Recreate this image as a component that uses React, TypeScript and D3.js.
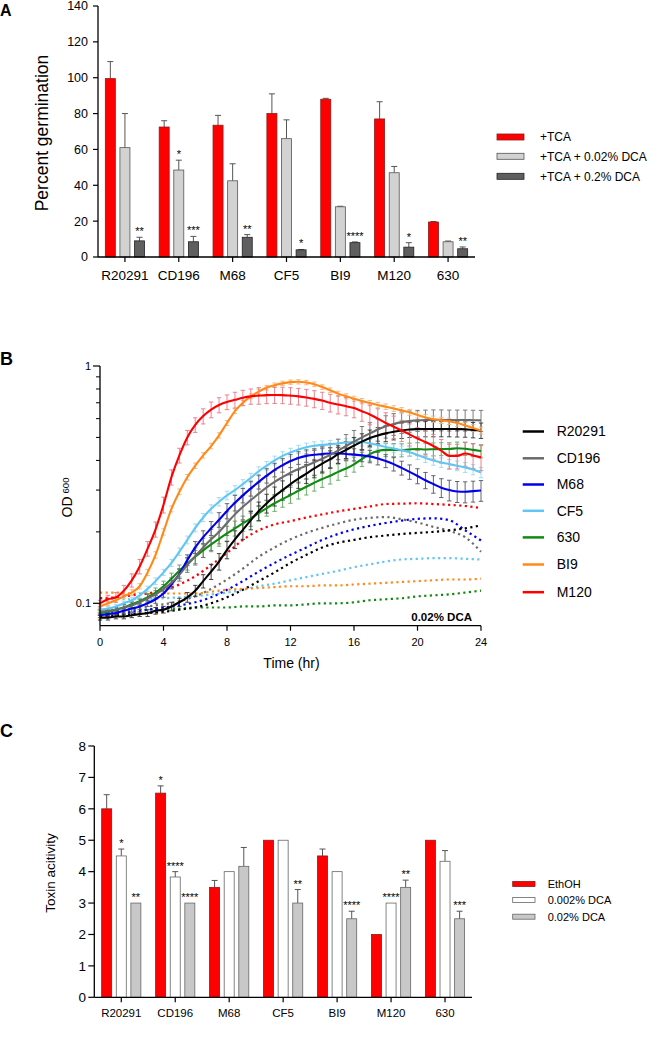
import React from 'react';
import * as d3 from 'd3';

const FONT = "'Liberation Sans', Arial, Helvetica, sans-serif";

// ---------------- Panel A data ----------------
const A_CATEGORIES = ['R20291', 'CD196', 'M68', 'CF5', 'BI9', 'M120', '630'];
const A_TCA = [99.5, 72.5, 73.5, 80, 88, 77, 19.5];
const A_TCA_ERR = [9.5, 3.5, 5.5, 11, 0.5, 9.6, 0.3];
const A_TCA_STARS = ['', '', '', '', '', '', ''];
const A_DCA002 = [61, 48.5, 42.5, 66, 28, 47, 8.5];
const A_DCA002_ERR = [19, 5.5, 9.5, 10.5, 0.3, 3.5, 0.4];
const A_DCA002_STARS = ['', '*', '', '', '', '', ''];
const A_DCA02 = [9, 8.5, 11, 4, 8, 5.5, 4.6];
const A_DCA02_ERR = [2, 3, 1.5, 0.2, 0.4, 2.5, 1];
const A_DCA02_STARS = ['**', '***', '**', '*', '****', '*', '**'];
const A_LEGEND = ['+TCA', '+TCA + 0.02% DCA', '+TCA + 0.2% DCA'];
const A_TICKS = [0, 20, 40, 60, 80, 100, 120, 140];

// ---------------- Panel B data ----------------
const B_STRAINS = ['R20291', 'CD196', 'M68', 'CF5', '630', 'BI9', 'M120'];
const B_TIMES = [0, 0.5, 1, 1.5, 2, 2.5, 3, 3.5, 4, 4.5, 5, 5.5, 6, 6.5, 7, 7.5, 8, 8.5, 9, 9.5,
  10, 10.5, 11, 11.5, 12, 12.5, 13, 13.5, 14, 14.5, 15, 15.5, 16, 16.5, 17, 17.5, 18, 18.5, 19, 19.5,
  20, 20.5, 21, 21.5, 22, 22.5, 23, 23.5, 24];
const B_HOURS = [0, 1, 2, 3, 4, 5, 6, 7, 8, 9, 10, 11, 12, 13, 14, 15, 16, 17, 18, 19, 20, 21, 22, 23, 24];

const OD_R20291 = [0.087, 0.087, 0.088, 0.088, 0.089, 0.09, 0.091, 0.093, 0.094, 0.097,
  0.101, 0.106, 0.113, 0.124, 0.136, 0.15, 0.168, 0.186, 0.204, 0.224,
  0.245, 0.264, 0.283, 0.3, 0.318, 0.335, 0.352, 0.37, 0.388, 0.405,
  0.425, 0.443, 0.462, 0.48, 0.497, 0.51, 0.52, 0.528, 0.535, 0.54,
  0.542, 0.543, 0.543, 0.543, 0.543, 0.542, 0.541, 0.538, 0.535];
const SD_R20291 = [0.002, 0.002, 0.002, 0.002, 0.002, 0.002, 0.003, 0.003, 0.003, 0.004,
  0.004, 0.005, 0.006, 0.008, 0.01, 0.012, 0.014, 0.016, 0.018, 0.02,
  0.022, 0.024, 0.026, 0.028, 0.03, 0.03, 0.032, 0.032, 0.034, 0.034,
  0.036, 0.036, 0.038, 0.038, 0.04, 0.04, 0.04, 0.04, 0.04, 0.04,
  0.04, 0.04, 0.04, 0.04, 0.04, 0.04, 0.04, 0.04, 0.04];
const OD_CD196 = [0.092, 0.093, 0.094, 0.096, 0.098, 0.101, 0.105, 0.109, 0.115, 0.122,
  0.132, 0.145, 0.158, 0.172, 0.186, 0.2, 0.218, 0.237, 0.255, 0.272,
  0.29, 0.308, 0.325, 0.34, 0.355, 0.368, 0.38, 0.393, 0.407, 0.422,
  0.44, 0.46, 0.48, 0.5, 0.52, 0.54, 0.557, 0.57, 0.58, 0.586,
  0.59, 0.592, 0.593, 0.593, 0.592, 0.592, 0.592, 0.591, 0.59];
const SD_CD196 = [0.002, 0.002, 0.002, 0.003, 0.003, 0.003, 0.004, 0.004, 0.005, 0.006,
  0.008, 0.01, 0.013, 0.016, 0.019, 0.022, 0.025, 0.028, 0.03, 0.032,
  0.034, 0.036, 0.038, 0.04, 0.042, 0.044, 0.046, 0.048, 0.05, 0.05,
  0.052, 0.054, 0.055, 0.056, 0.057, 0.058, 0.06, 0.06, 0.06, 0.06,
  0.06, 0.06, 0.06, 0.06, 0.06, 0.06, 0.06, 0.06, 0.06];
const OD_M68 = [0.089, 0.09, 0.091, 0.093, 0.095, 0.097, 0.1, 0.104, 0.11, 0.12,
  0.133, 0.152, 0.172, 0.19, 0.207, 0.225, 0.245, 0.265, 0.285, 0.305,
  0.325, 0.345, 0.365, 0.382, 0.398, 0.41, 0.418, 0.423, 0.426, 0.428,
  0.428, 0.426, 0.423, 0.42, 0.416, 0.408, 0.398, 0.386, 0.372, 0.358,
  0.344, 0.33, 0.318, 0.307, 0.3, 0.296, 0.295, 0.297, 0.299];
const SD_M68 = [0.002, 0.002, 0.002, 0.002, 0.003, 0.003, 0.003, 0.004, 0.004, 0.005,
  0.006, 0.008, 0.01, 0.012, 0.014, 0.016, 0.018, 0.02, 0.02, 0.022,
  0.022, 0.024, 0.024, 0.025, 0.025, 0.025, 0.025, 0.025, 0.025, 0.025,
  0.025, 0.025, 0.025, 0.025, 0.025, 0.025, 0.025, 0.025, 0.025, 0.025,
  0.025, 0.026, 0.027, 0.028, 0.03, 0.03, 0.03, 0.03, 0.03];
const OD_CF5 = [0.094, 0.095, 0.097, 0.1, 0.103, 0.108, 0.115, 0.124, 0.135, 0.148,
  0.165, 0.185, 0.208, 0.23, 0.25, 0.268, 0.285, 0.3, 0.318, 0.338,
  0.36, 0.38, 0.4, 0.418, 0.432, 0.445, 0.455, 0.461, 0.465, 0.468,
  0.472, 0.476, 0.478, 0.478, 0.472, 0.464, 0.456, 0.449, 0.442, 0.433,
  0.422, 0.41, 0.4, 0.392, 0.386, 0.38, 0.374, 0.366, 0.356];
const SD_CF5 = [0.002, 0.002, 0.002, 0.002, 0.003, 0.003, 0.003, 0.004, 0.004, 0.005,
  0.006, 0.007, 0.008, 0.009, 0.01, 0.011, 0.012, 0.013, 0.014, 0.015,
  0.016, 0.016, 0.017, 0.017, 0.018, 0.018, 0.018, 0.018, 0.018, 0.018,
  0.018, 0.018, 0.018, 0.018, 0.018, 0.018, 0.018, 0.018, 0.018, 0.018,
  0.018, 0.018, 0.018, 0.018, 0.018, 0.018, 0.018, 0.018, 0.018];
const OD_630 = [0.091, 0.092, 0.094, 0.096, 0.099, 0.102, 0.106, 0.111, 0.118, 0.127,
  0.137, 0.147, 0.157, 0.167, 0.177, 0.187, 0.197, 0.207, 0.217, 0.228,
  0.24, 0.252, 0.264, 0.275, 0.286, 0.298, 0.31, 0.322, 0.334, 0.345,
  0.358, 0.37, 0.385, 0.405, 0.425, 0.438, 0.443, 0.443, 0.442, 0.445,
  0.447, 0.445, 0.446, 0.447, 0.447, 0.45, 0.448, 0.443, 0.438];
const SD_630 = [0.002, 0.002, 0.002, 0.003, 0.003, 0.003, 0.004, 0.005, 0.006, 0.007,
  0.008, 0.009, 0.01, 0.011, 0.012, 0.013, 0.014, 0.015, 0.016, 0.017,
  0.018, 0.019, 0.02, 0.021, 0.022, 0.023, 0.024, 0.025, 0.026, 0.027,
  0.028, 0.028, 0.028, 0.028, 0.028, 0.028, 0.028, 0.028, 0.028, 0.028,
  0.028, 0.028, 0.028, 0.028, 0.028, 0.028, 0.028, 0.028, 0.028];
const OD_BI9 = [0.097, 0.1, 0.103, 0.107, 0.111, 0.118, 0.135, 0.16, 0.2, 0.25,
  0.295, 0.34, 0.38, 0.42, 0.46, 0.51, 0.575, 0.645, 0.7, 0.745,
  0.78, 0.81, 0.83, 0.845, 0.855, 0.858, 0.852, 0.838, 0.815, 0.79,
  0.765, 0.745, 0.728, 0.712, 0.698, 0.685, 0.674, 0.662, 0.65, 0.638,
  0.622, 0.607, 0.597, 0.59, 0.585, 0.575, 0.562, 0.548, 0.535];
const SD_BI9 = [0.002, 0.002, 0.002, 0.002, 0.003, 0.003, 0.004, 0.005, 0.006, 0.007,
  0.008, 0.009, 0.01, 0.011, 0.012, 0.013, 0.014, 0.015, 0.016, 0.017,
  0.018, 0.018, 0.018, 0.018, 0.018, 0.018, 0.018, 0.018, 0.018, 0.018,
  0.018, 0.018, 0.018, 0.018, 0.018, 0.018, 0.018, 0.018, 0.018, 0.018,
  0.018, 0.018, 0.018, 0.018, 0.018, 0.018, 0.018, 0.018, 0.018];
const OD_M120 = [0.1, 0.104, 0.106, 0.113, 0.125, 0.143, 0.17, 0.205, 0.26, 0.34,
  0.42, 0.5, 0.565, 0.615, 0.655, 0.685, 0.705, 0.72, 0.735, 0.745,
  0.75, 0.754, 0.755, 0.754, 0.75, 0.745, 0.737, 0.727, 0.715, 0.7,
  0.688, 0.677, 0.665, 0.645, 0.625, 0.6, 0.575, 0.555, 0.535, 0.515,
  0.495, 0.478, 0.46, 0.44, 0.418, 0.418, 0.428, 0.42, 0.412];
const SD_M120 = [0.003, 0.004, 0.005, 0.006, 0.008, 0.01, 0.012, 0.015, 0.02, 0.025,
  0.03, 0.035, 0.04, 0.045, 0.05, 0.05, 0.05, 0.055, 0.055, 0.055,
  0.06, 0.06, 0.06, 0.06, 0.06, 0.06, 0.06, 0.06, 0.06, 0.06,
  0.06, 0.06, 0.06, 0.06, 0.06, 0.06, 0.06, 0.06, 0.055, 0.055,
  0.055, 0.055, 0.055, 0.05, 0.05, 0.05, 0.05, 0.05, 0.05];

// 0.02% DCA (dotted), hourly
const DCA_R20291 = [0.088, 0.089, 0.09, 0.091, 0.092, 0.094, 0.096, 0.1, 0.106, 0.114, 0.124, 0.135, 0.148, 0.16, 0.172, 0.18, 0.185, 0.19, 0.193, 0.196, 0.198, 0.2, 0.203, 0.207, 0.213];
const DCA_CD196 = [0.093, 0.094, 0.095, 0.097, 0.099, 0.102, 0.107, 0.115, 0.126, 0.14, 0.157, 0.172, 0.186, 0.198, 0.208, 0.217, 0.225, 0.229, 0.231, 0.226, 0.219, 0.21, 0.202, 0.19, 0.165];
const DCA_M68 = [0.09, 0.091, 0.092, 0.094, 0.096, 0.098, 0.101, 0.106, 0.114, 0.124, 0.136, 0.148, 0.16, 0.172, 0.185, 0.196, 0.205, 0.212, 0.218, 0.223, 0.227, 0.228, 0.224, 0.203, 0.184];
const DCA_CF5 = [0.105, 0.104, 0.104, 0.104, 0.105, 0.106, 0.107, 0.109, 0.111, 0.114, 0.118, 0.121, 0.125, 0.129, 0.133, 0.137, 0.142, 0.146, 0.15, 0.153, 0.154, 0.155, 0.155, 0.154, 0.153];
const DCA_630 = [0.093, 0.093, 0.094, 0.094, 0.095, 0.095, 0.096, 0.096, 0.096, 0.097, 0.097, 0.098, 0.098, 0.099, 0.1, 0.1, 0.101, 0.103, 0.104, 0.105, 0.107, 0.108, 0.109, 0.111, 0.113];
const DCA_BI9 = [0.111, 0.111, 0.11, 0.11, 0.11, 0.11, 0.11, 0.112, 0.114, 0.115, 0.116, 0.117, 0.118, 0.118, 0.119, 0.119, 0.12, 0.121, 0.122, 0.123, 0.124, 0.125, 0.126, 0.126, 0.127];
const DCA_M120 = [0.105, 0.106, 0.108, 0.11, 0.114, 0.12, 0.13, 0.145, 0.163, 0.185, 0.203, 0.215, 0.222, 0.23, 0.237, 0.244, 0.25, 0.256, 0.262, 0.263, 0.264, 0.262, 0.26, 0.257, 0.252];

const B_X_TICKS = [0, 4, 8, 12, 16, 20, 24];
const B_Y_MAJOR = [0.1, 1];
const B_Y_MINOR = [0.2, 0.3, 0.4, 0.5, 0.6, 0.7, 0.8, 0.9];

// ---------------- Panel C data ----------------
const C_CATEGORIES = ['R20291', 'CD196', 'M68', 'CF5', 'BI9', 'M120', '630'];
const C_ETHOH = [6, 6.5, 3.5, 5, 4.5, 2, 5];
const C_ETHOH_ERR = [0.45, 0.23, 0.22, 0, 0.22, 0, 0];
const C_ETHOH_STARS = ['', '*', '', '', '', '', ''];
const C_DCA0002 = [4.5, 3.83, 4, 5, 4, 3, 4.33];
const C_DCA0002_ERR = [0.22, 0.17, 0, 0, 0, 0, 0.34];
const C_DCA0002_STARS = ['*', '****', '', '', '', '****', ''];
const C_DCA002 = [3, 3, 4.17, 3, 2.5, 3.5, 2.5];
const C_DCA002_ERR = [0, 0, 0.6, 0.43, 0.24, 0.23, 0.24];
const C_DCA002_STARS = ['**', '****', '', '**', '****', '**', '***'];
const C_LEGEND = ['EthOH', '0.002% DCA', '0.02% DCA'];
const C_TICKS = [0, 1, 2, 3, 4, 5, 6, 7, 8];

type BarSeries = { key: string; values: number[]; errors: number[]; stars: string[]; fill: string; stroke: string };

function BarPanel(props: {
  categories: string[];
  series: BarSeries[];
  x0: number; x1: number; yTop: number; yBottom: number; yMax: number;
  ticks: number[]; tickFont: number; tickLabelX: number; tickLen: number;
  catFont: number; catBaseline: number;
  ylabel: string; ylabelX: number; ylabelY: number; ylabelFont: number;
  legend: string[]; legendX0: number; legendX1: number; legendTextX: number; legendYs: number[]; legendH: number; legendFont: number;
  letter: string; letterY: number; letterFont: number;
}) {
  const p = props;
  const x = d3.scaleBand<string>().domain(p.categories).range([p.x0, p.x1]);
  const inner = d3.scalePoint<string>().domain(p.series.map(s => s.key)).range([-14.6, 14.6]);
  const y = d3.scaleLinear().domain([0, p.yMax]).range([p.yBottom, p.yTop]);
  const bw = 10;
  return (
    <g>
      <text x={0} y={p.letterY} fontSize={p.letterFont} fontWeight="bold">{p.letter}</text>
      {p.series.map(s => (
        <g key={s.key}>
          {p.categories.map((c, i) => {
            const cx = (x(c) as number) + x.bandwidth() / 2 + (inner(s.key) as number);
            const v = s.values[i];
            const e = s.errors[i];
            const top = y(v + e);
            return (
              <g key={c}>
                {e > 0 && (
                  <g stroke="#555" strokeWidth={1}>
                    <line x1={cx} x2={cx} y1={y(v)} y2={top} />
                    <line x1={cx - 3} x2={cx + 3} y1={top} y2={top} />
                  </g>
                )}
                <rect x={cx - bw / 2} y={y(v)} width={bw} height={y(0) - y(v)} fill={s.fill} stroke={s.stroke} strokeWidth={0.8} />
                {s.stars[i] && (
                  <text x={cx} y={top - 2} textAnchor="middle" fontSize={11}>{s.stars[i]}</text>
                )}
              </g>
            );
          })}
        </g>
      ))}
      {/* axes */}
      <line x1={p.x0} x2={p.x0} y1={p.yTop} y2={p.yBottom} stroke="#000" strokeWidth={1.3} />
      <line x1={p.x0} x2={p.x1} y1={p.yBottom} y2={p.yBottom} stroke="#000" strokeWidth={1.3} />
      {p.ticks.map(t => (
        <g key={t}>
          <line x1={p.x0 - p.tickLen} x2={p.x0} y1={y(t)} y2={y(t)} stroke="#000" strokeWidth={1.2} />
          <text x={p.tickLabelX} y={y(t)} dy="0.35em" textAnchor="end" fontSize={p.tickFont}>{t}</text>
        </g>
      ))}
      {p.categories.map(c => {
        const cx = (x(c) as number) + x.bandwidth() / 2;
        return (
          <g key={c}>
            <line x1={cx} x2={cx} y1={p.yBottom} y2={p.yBottom + 5} stroke="#000" strokeWidth={1.2} />
            <text x={cx} y={p.catBaseline} textAnchor="middle" fontSize={p.catFont}>{c}</text>
          </g>
        );
      })}
      <text transform={`translate(${p.ylabelX},${p.ylabelY}) rotate(-90)`} textAnchor="middle" fontSize={p.ylabelFont}>{p.ylabel}</text>
      {p.legend.map((l, i) => (
        <g key={l}>
          <rect x={p.legendX0} y={p.legendYs[i] - p.legendH / 2} width={p.legendX1 - p.legendX0} height={p.legendH} fill={p.series[i].fill} stroke={p.series[i].stroke} strokeWidth={0.8} />
          <text x={p.legendTextX} y={p.legendYs[i]} dy="0.35em" fontSize={p.legendFont}>{l}</text>
        </g>
      ))}
    </g>
  );
}

function PanelB() {
  const x = d3.scaleLinear().domain([0, 24]).range([100, 481]);
  const y = d3.scaleLog().domain([0.1, 1]).range([603.3, 366]);
  const axisY = 625.7;
  const solid = [OD_R20291, OD_CD196, OD_M68, OD_CF5, OD_630, OD_BI9, OD_M120];
  const sds = [SD_R20291, SD_CD196, SD_M68, SD_CF5, SD_630, SD_BI9, SD_M120];
  const dotted = [DCA_R20291, DCA_CD196, DCA_M68, DCA_CF5, DCA_630, DCA_BI9, DCA_M120];
  const colors = ['#000000', '#6b6b6b', '#0000ee', '#62c6f2', '#118a11', '#ff8a1a', '#ff0000'];
  const errColors = ['#333333', '#6e6e6e', '#555566', '#9bd8f2', '#5aa95a', '#f5b273', '#e87684'];
  const line = d3.line<[number, number]>().x(d => x(d[0])).y(d => y(d[1])).curve(d3.curveMonotoneX);
  const legendYs = [431.5, 458.3, 484.5, 510.8, 537.4, 564.5, 592.2];
  const drawOrder = [4, 3, 2, 1, 0, 5, 6];
  return (
    <g>
      <text x={0} y={365} fontSize={18} fontWeight="bold">B</text>
      {/* dotted 0.02% DCA */}
      {drawOrder.map(i => (
        <path key={'d' + i} d={line(B_HOURS.map((t, j) => [t, dotted[i][j]] as [number, number])) || ''}
          fill="none" stroke={colors[i]} strokeWidth={2.2} strokeDasharray="2.2 3.4" />
      ))}
      {/* error bars */}
      {drawOrder.map(i => (
        <g key={'e' + i} stroke={errColors[i]} strokeWidth={0.9}>
          {B_TIMES.map((t, j) => {
            const v = solid[i][j];
            const e = sds[i][j];
            const cx = x(t);
            const yl = y(v - e);
            const yh = y(v + e);
            return (
              <g key={j}>
                <line x1={cx} x2={cx} y1={yl} y2={yh} />
                <line x1={cx - 2.2} x2={cx + 2.2} y1={yl} y2={yl} />
                <line x1={cx - 2.2} x2={cx + 2.2} y1={yh} y2={yh} />
              </g>
            );
          })}
        </g>
      ))}
      {drawOrder.map(i => (
        <path key={'s' + i} d={line(B_TIMES.map((t, j) => [t, solid[i][j]] as [number, number])) || ''}
          fill="none" stroke={colors[i]} strokeWidth={2.1} />
      ))}
      {/* axes */}
      <line x1={100} x2={100} y1={366} y2={axisY} stroke="#000" strokeWidth={1.3} />
      <line x1={100} x2={481} y1={axisY} y2={axisY} stroke="#000" strokeWidth={1.3} />
      {B_Y_MAJOR.map(t => (
        <g key={t}>
          <line x1={93} x2={100} y1={y(t)} y2={y(t)} stroke="#000" strokeWidth={1.2} />
          <text x={91} y={y(t)} dy="0.35em" textAnchor="end" fontSize={11}>{String(t)}</text>
        </g>
      ))}
      {B_Y_MINOR.map(t => (
        <line key={t} x1={96} x2={100} y1={y(t)} y2={y(t)} stroke="#000" strokeWidth={1} />
      ))}
      {B_X_TICKS.map(t => (
        <g key={t}>
          <line x1={x(t)} x2={x(t)} y1={axisY} y2={axisY + 5} stroke="#000" strokeWidth={1.2} />
          <text x={x(t)} y={645.5} textAnchor="middle" fontSize={11}>{t}</text>
        </g>
      ))}
      <text x={291.5} y={668} textAnchor="middle" fontSize={14}>Time (hr)</text>
      <text transform="translate(72,497.5) rotate(-90)" textAnchor="middle">
        <tspan fontSize={14}>OD</tspan>
        <tspan fontSize={9.6} dx={3} dy={-3}>600</tspan>
      </text>
      <text x={472} y={621} textAnchor="end" fontSize={11.5} fontWeight="bold">0.02% DCA</text>
      {B_STRAINS.map((s, i) => (
        <g key={s}>
          <line x1={522.7} x2={544} y1={legendYs[i]} y2={legendYs[i]} stroke={colors[i]} strokeWidth={2.5} />
          <text x={556.7} y={legendYs[i]} dy="0.35em" fontSize={14}>{s}</text>
        </g>
      ))}
    </g>
  );
}

export default function App() {
  const aSeries: BarSeries[] = [
    { key: 'tca', values: A_TCA, errors: A_TCA_ERR, stars: A_TCA_STARS, fill: '#ff0000', stroke: '#8c1a1a' },
    { key: 'd002', values: A_DCA002, errors: A_DCA002_ERR, stars: A_DCA002_STARS, fill: '#d2d2d2', stroke: '#555555' },
    { key: 'd02', values: A_DCA02, errors: A_DCA02_ERR, stars: A_DCA02_STARS, fill: '#5f5f5f', stroke: '#222222' },
  ];
  const cSeries: BarSeries[] = [
    { key: 'eth', values: C_ETHOH, errors: C_ETHOH_ERR, stars: C_ETHOH_STARS, fill: '#ff0000', stroke: '#8c1a1a' },
    { key: 'd0002', values: C_DCA0002, errors: C_DCA0002_ERR, stars: C_DCA0002_STARS, fill: '#ffffff', stroke: '#666666' },
    { key: 'd002', values: C_DCA002, errors: C_DCA002_ERR, stars: C_DCA002_STARS, fill: '#c8c8c8', stroke: '#666666' },
  ];
  return (
    <svg width={669} height={1050} style={{ position: 'absolute', left: 0, top: 0, display: 'block' }} fontFamily={FONT}>
      <rect x={0} y={0} width={669} height={1050} fill="#ffffff" />
      <BarPanel categories={A_CATEGORIES} series={aSeries}
        x0={98} x1={475} yTop={6} yBottom={257} yMax={140}
        ticks={A_TICKS} tickFont={12.5} tickLabelX={88} tickLen={5}
        catFont={13.5} catBaseline={280}
        ylabel="Percent germination" ylabelX={48} ylabelY={133} ylabelFont={17.5}
        legend={A_LEGEND} legendX0={497} legendX1={524} legendTextX={540} legendYs={[137, 156.3, 176.3]} legendH={6} legendFont={12}
        letter="A" letterY={16} letterFont={16} />
      <PanelB />
      <BarPanel categories={C_CATEGORIES} series={cSeries}
        x0={94.3} x1={472} yTop={746} yBottom={997.3} yMax={8}
        ticks={C_TICKS} tickFont={13.5} tickLabelX={86} tickLen={6}
        catFont={11.5} catBaseline={1016.5}
        ylabel="Toxin acitivity" ylabelX={55} ylabelY={873} ylabelFont={13.5}
        legend={C_LEGEND} legendX0={512.7} legendX1={535} legendTextX={547.7} legendYs={[884, 900, 916.7]} legendH={5} legendFont={11}
        letter="C" letterY={737} letterFont={18} />
    </svg>
  );
}
